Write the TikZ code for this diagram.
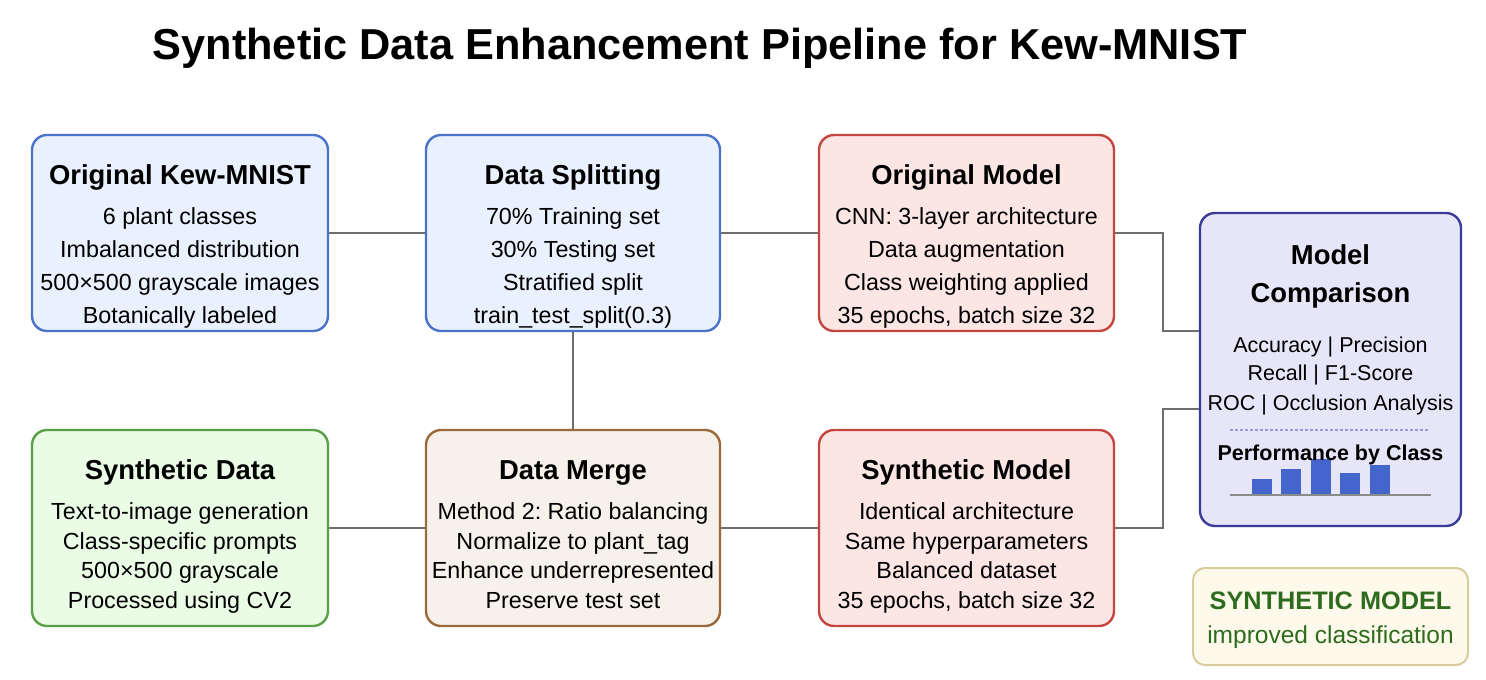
\documentclass[tikz,border=0pt]{standalone}
\usepackage{fontspec}
\setmainfont{Liberation Sans}
\usetikzlibrary{calc}
\frenchspacing
\definecolor{bluefill}{HTML}{E8F1FD}
\definecolor{blueline}{HTML}{4A72C9}
\definecolor{redfill}{HTML}{FBE6E4}
\definecolor{redline}{HTML}{C4463F}
\definecolor{greenfill}{HTML}{EBFCE6}
\definecolor{greenline}{HTML}{5A9E47}
\definecolor{brownfill}{HTML}{F6F1EA}
\definecolor{brownline}{HTML}{9A6A3C}
\definecolor{purpfill}{HTML}{E6E6F8}
\definecolor{purpline}{HTML}{3B3B99}
\definecolor{legfill}{HTML}{FEFAEB}
\definecolor{legline}{HTML}{D9CC9B}
\definecolor{legtext}{HTML}{2F6B1F}
\definecolor{conn}{HTML}{6E6E6E}
\definecolor{barblue}{HTML}{4466CC}
\definecolor{dashc}{HTML}{9999DD}
\tikzset{
  box/.style={draw, rounded corners=15pt, line width=2.4pt, inner sep=0pt},
  bluebox/.style={box, fill=bluefill, draw=blueline},
  redbox/.style={box, fill=redfill, draw=redline},
  greenbox/.style={box, fill=greenfill, draw=greenline},
  brownbox/.style={box, fill=brownfill, draw=brownline},
  purpbox/.style={box, fill=purpfill, draw=purpline},
  legbox/.style={box, fill=legfill, draw=legline, line width=2pt, rounded corners=12pt},
  head/.style={anchor=base, inner sep=0pt, font=\fontsize{27.4}{32}\selectfont\bfseries},
  body/.style={anchor=base, inner sep=0pt, font=\fontsize{23.3}{28}\selectfont},
  metric/.style={anchor=base, inner sep=0pt, font=\fontsize{21.5}{26}\selectfont},
  metricb/.style={anchor=base, inner sep=0pt, font=\fontsize{21.5}{26}\selectfont\bfseries},
  conline/.style={draw=conn, line width=2.6pt},
  bar/.style={fill=barblue, draw=none}
}
\begin{document}
\begin{tikzpicture}[x=1pt,y=-1pt]
\useasboundingbox (0,0) rectangle (1486,680);
% title
\node[anchor=base, inner sep=0pt, font=\fontsize{43.3}{50}\selectfont\bfseries] (title) at (700,59.5) {Synthetic Data Enhancement Pipeline for Kew-MNIST};

% boxes
\node[bluebox, minimum width=296pt, minimum height=196pt] (b1) at (180,233) {};
\node[bluebox, minimum width=294pt, minimum height=196pt] (b2) at (573,233) {};
\node[redbox, minimum width=295pt, minimum height=196pt] (b3) at (966.5,233) {};
\node[greenbox, minimum width=296pt, minimum height=196pt] (b4) at (180,528) {};
\node[brownbox, minimum width=294pt, minimum height=196pt] (b5) at (573,528) {};
\node[redbox, minimum width=295pt, minimum height=196pt] (b6) at (966.5,528) {};
\node[purpbox, minimum width=261pt, minimum height=313pt] (mc) at (1330.5,369.5) {};
\node[legbox, minimum width=275pt, minimum height=97pt] (leg) at (1330.5,616.5) {};

% connectors
\draw[conline] (b1.east) -- (b2.west);
\draw[conline] (b2.east) -- (b3.west);
\draw[conline] (b2.south) -- (b5.north);
\draw[conline] (b4.east) -- (b5.west);
\draw[conline] (b5.east) -- (b6.west);
\coordinate (j1) at (1163,331);
\coordinate (j2) at (1163,409);
\draw[conline] (b3.east) -| (j1) -- (j1 -| mc.west);
\draw[conline] (b6.east) -| (j2) -- (j2 -| mc.west);

% box 1
\node[head] (t1) at (180,184.8) {Original Kew-MNIST};
\node[body] (t1a) at (180,224.3) {6 plant classes};
\node[body] (t1b) at (180,257.3) {Imbalanced distribution};
\node[body] (t1c) at (180,290.3) {500×500 grayscale images};
\node[body] (t1d) at (180,323.3) {Botanically labeled};
% box 2
\node[head] (t2) at (573,184.8) {Data Splitting};
\node[body] (t2a) at (573,224.3) {70\% Training set};
\node[body] (t2b) at (573,257.3) {30\% Testing set};
\node[body] (t2c) at (573,290.3) {Stratified split};
\node[body] (t2d) at (573,323.3) {train\_test\_split(0.3)};
% box 3
\node[head] (t3) at (966.5,184.8) {Original Model};
\node[body] (t3a) at (966.5,224.3) {CNN: 3-layer architecture};
\node[body] (t3b) at (966.5,257.3) {Data augmentation};
\node[body] (t3c) at (966.5,290.3) {Class weighting applied};
\node[body] (t3d) at (966.5,323.3) {35 epochs, batch size 32};
% box 4
\node[head] (t4) at (180,479.8) {Synthetic Data};
\node[body] (t4a) at (180,519.3) {Text-to-image generation};
\node[body] (t4b) at (180,549.3) {Class-specific prompts};
\node[body] (t4c) at (180,578.3) {500×500 grayscale};
\node[body] (t4d) at (180,608.3) {Processed using CV2};
% box 5
\node[head] (t5) at (573,479.8) {Data Merge};
\node[body] (t5a) at (573,519.3) {Method 2: Ratio balancing};
\node[body] (t5b) at (573,549.3) {Normalize to plant\_tag};
\node[body] (t5c) at (573,578.3) {Enhance underrepresented};
\node[body] (t5d) at (573,608.3) {Preserve test set};
% box 6
\node[head] (t6) at (966.5,479.8) {Synthetic Model};
\node[body] (t6a) at (966.5,519.3) {Identical architecture};
\node[body] (t6b) at (966.5,549.3) {Same hyperparameters};
\node[body] (t6c) at (966.5,578.3) {Balanced dataset};
\node[body] (t6d) at (966.5,608.3) {35 epochs, batch size 32};
% model comparison
\node[head] (m1) at (1330.5,264.8) {Model};
\node[head] (m2) at (1330.5,302.8) {Comparison};
\node[metric] (m3) at (1330.5,352.7) {Accuracy | Precision};
\node[metric] (m4) at (1330.5,380.7) {Recall | F1-Score};
\node[metric] (m5) at (1330.5,410.7) {ROC | Occlusion Analysis};
\draw[dashc, line width=1.2pt, dash pattern=on 3pt off 2pt] (1230,430) -- (1428,430);
\fill[bar] (1252,479) rectangle (1272,495);
\fill[bar] (1281,469) rectangle (1301,495);
\fill[bar] (1311,459) rectangle (1331,495);
\fill[bar] (1340,473) rectangle (1360,495);
\fill[bar] (1370,465) rectangle (1390,495);
\node[metricb] (m6) at (1330.5,460.7) {Performance by Class};
\draw[conn!80, line width=1.5pt] (1230,495) -- (1431,495);
% legend
\node[anchor=base, inner sep=0pt, text=legtext, font=\fontsize{25.3}{30}\selectfont\bfseries] (l1) at (1330.5,609) {SYNTHETIC MODEL};
\node[anchor=base, inner sep=0pt, text=legtext, font=\fontsize{24.5}{30}\selectfont] (l2) at (1330.5,643) {improved classification};
\end{tikzpicture}
\end{document}
